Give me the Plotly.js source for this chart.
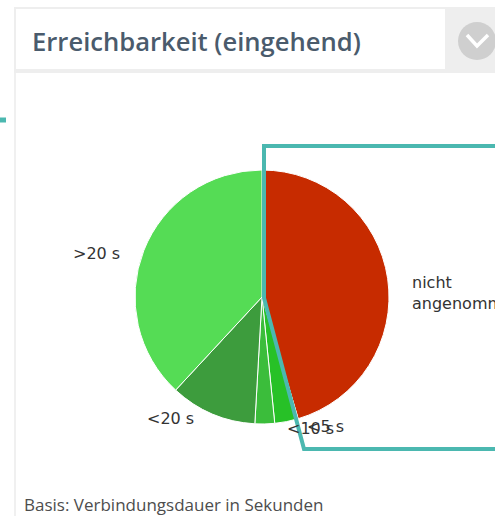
<!DOCTYPE html>
<html>
<head>
<meta charset="utf-8">
<script src="https://cdn.plot.ly/plotly-3.0.1.min.js"></script>
<style>
html, body { margin:0; padding:0; overflow:hidden; background:#fff; }
#chart { width:495px; height:516px; }
</style>
</head>
<body>
<div id="chart"></div>
<script>
// ---- data ----
var categories = ["nicht angenommen", "<5 s", "<10 s", "<20 s", ">20 s"];
var shares = [45.4, 3.0, 2.5, 11.0, 38.1];
var sliceColors = ["#c72b00", "#27c127", "#3bbd3b", "#3d9c3d", "#55dc55"];
var chartTitle = "Erreichbarkeit (eingehend)";
var footnote = "Basis: Verbindungsdauer in Sekunden";

// ---- layout helpers (pixel -> paper) ----
var W = 495, H = 516;
function X(px) { return px / W; }
function Y(py) { return 1 - py / H; }

var cx = 262, cy = 297, r = 127;

var trace = {
  type: "pie",
  labels: categories,
  values: shares,
  sort: false,
  direction: "clockwise",
  rotation: 0,
  textinfo: "none",
  hoverinfo: "label+percent",
  marker: { colors: sliceColors, line: { color: "#ffffff", width: 1 } },
  domain: { x: [X(cx - r), X(cx + r)], y: [Y(cy + r), Y(cy - r)] },
  showlegend: false
};

// labels placed outside the pie from the slice mid-angles
var total = shares.reduce(function (a, b) { return a + b; }, 0);
var annotations = [];
var cum = 0;
for (var i = 0; i < shares.length; i++) {
  var mid = (cum + shares[i] / 2) / total * 2 * Math.PI;
  cum += shares[i];
  var s = Math.sin(mid), c = Math.cos(mid);
  var side = s >= 0 ? 1 : -1;
  var xoff = Math.max(150 * Math.abs(s), 20 + 117 * Math.abs(s));
  var lx = cx + side * xoff;
  var ly = cy - c * 128 + 2;
  var txt = categories[i].length > 10 ? categories[i].replace(" ", "<br>") : categories[i];
  annotations.push({
    text: txt, xref: "paper", yref: "paper",
    x: X(lx), y: Y(ly - 10),
    xanchor: side > 0 ? "left" : "right", yanchor: "top", align: "left",
    showarrow: false,
    font: { family: "DejaVu Sans", size: 16, color: "#333333" }
  });
}

annotations.push({
  text: chartTitle, xref: "paper", yref: "paper",
  x: X(30), y: Y(41), xanchor: "left", yanchor: "middle", showarrow: false,
  font: { family: "Open Sans", size: 25.6, color: "#4a5b6c", weight: 600 }
});
annotations.push({
  text: footnote, xref: "paper", yref: "paper",
  x: X(22), y: Y(504), xanchor: "left", yanchor: "middle", showarrow: false,
  font: { family: "Open Sans", size: 17, color: "#4d4d4d" }
});

function rect(x0, y0, x1, y1, fill, layer) {
  return { type: "rect", xref: "paper", yref: "paper",
    x0: X(x0), x1: X(x1), y0: Y(y1), y1: Y(y0),
    fillcolor: fill, line: { width: 0 }, layer: layer || "below" };
}
function path(pts, color, width, fill) {
  var d = pts.map(function (p, k) { return (k ? "L" : "M") + X(p[0]) + "," + Y(p[1]); }).join(" ");
  return { type: "path", xref: "paper", yref: "paper", path: d,
    line: { color: color, width: width }, fillcolor: fill || "rgba(0,0,0,0)", layer: "above" };
}

var shapes = [
  rect(14, 7, 495, 73, "#eeeeee"),
  rect(16, 9, 445, 69, "#ffffff"),
  rect(14, 73, 16, 516, "#f0f0f0"),
  { type: "circle", xref: "paper", yref: "paper",
    x0: X(458), x1: X(496), y0: Y(60), y1: Y(22),
    fillcolor: "#cfcfcf", line: { width: 0 }, layer: "above" },
  path([[467, 35], [477, 46], [488, 35]], "#ffffff", 3.5),
  // teal highlight overlay
  path([[496, 146], [264, 146], [264, 298], [304, 449], [496, 449]], "#4bb8b0", 4),
  path([[0, 120], [6, 120]], "#4bb8b0", 5)
];

var layout = {
  width: W, height: H,
  margin: { l: 0, r: 0, t: 0, b: 0 },
  paper_bgcolor: "#ffffff",
  showlegend: false,
  annotations: annotations,
  shapes: shapes
};

Plotly.newPlot("chart", [trace], layout, { displayModeBar: false, staticPlot: true });
</script>
</body>
</html>
